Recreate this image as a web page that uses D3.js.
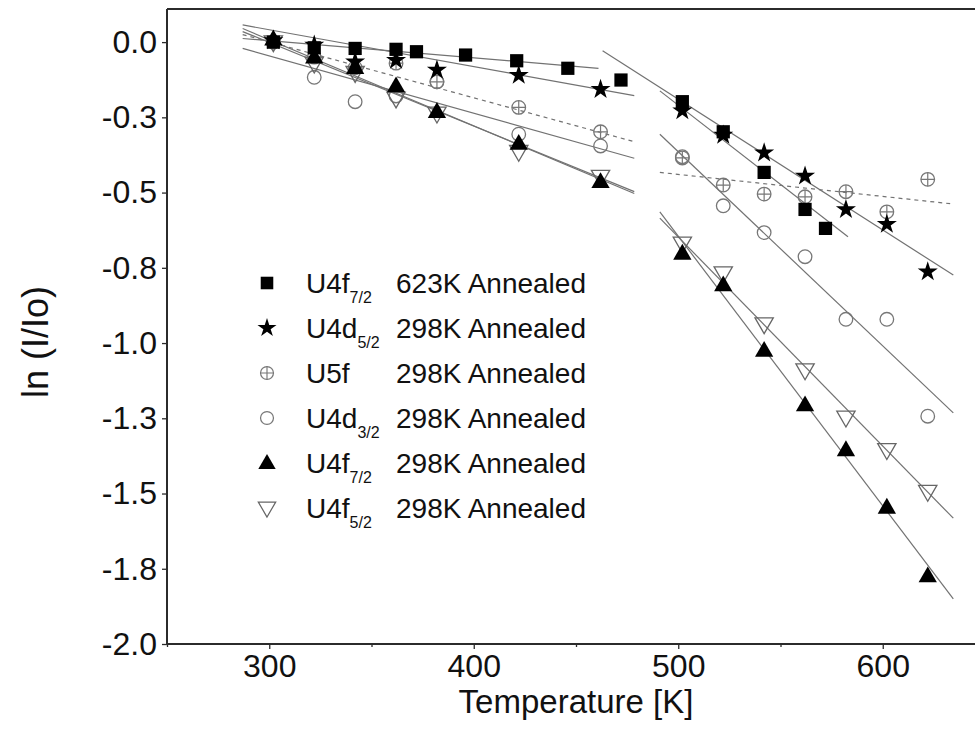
<!DOCTYPE html>
<html>
<head>
<meta charset="utf-8">
<script src="https://cdn.jsdelivr.net/npm/d3@7"></script>
<style>
  html, body { margin: 0; padding: 0; background: #fff; }
  svg { display: block; font-family: "Liberation Sans", Arial, sans-serif; }
</style>
</head>
<body>
<svg id="chart" width="975" height="738"></svg>
<script>
// Temperature-dependent XPS intensity ratios ln(I/Io)

// U4f7/2, 623K annealed
const sqT = [302, 322, 342, 362, 372, 396, 421, 446, 472, 502, 522, 542, 562, 572];
const sqV = [0.0, -0.019, -0.021, -0.024, -0.032, -0.043, -0.062, -0.087, -0.126, -0.198, -0.298, -0.433, -0.556, -0.619];

// U4d5/2, 298K annealed
const starT = [302, 322, 342, 362, 382, 422, 462, 502, 522, 542, 562, 582, 602, 622];
const starV = [0.005, -0.01, -0.065, -0.06, -0.093, -0.11, -0.157, -0.228, -0.309, -0.368, -0.445, -0.556, -0.605, -0.763];

// U5f, 298K annealed
const u5fT = [302, 322, 342, 362, 382, 422, 462, 502, 522, 542, 562, 582, 602, 622];
const u5fV = [0.0, -0.05, -0.085, -0.07, -0.132, -0.217, -0.298, -0.385, -0.475, -0.505, -0.514, -0.497, -0.564, -0.456];

// U4d3/2, 298K annealed
const circT = [302, 322, 342, 362, 382, 422, 462, 502, 522, 542, 562, 582, 602, 622];
const circV = [0.0, -0.117, -0.198, -0.179, -0.132, -0.306, -0.345, -0.381, -0.544, -0.633, -0.713, -0.921, -0.921, -1.243];

// U4f7/2, 298K annealed
const triUpT = [302, 322, 342, 362, 382, 422, 462, 502, 522, 542, 562, 582, 602, 622];
const triUpV = [0.01, -0.05, -0.085, -0.146, -0.231, -0.337, -0.464, -0.702, -0.807, -1.025, -1.206, -1.355, -1.546, -1.774];

// U4f5/2, 298K annealed
const triDnT = [302, 322, 342, 362, 382, 422, 462, 502, 522, 542, 562, 582, 602, 622];
const triDnV = [0.0, -0.071, -0.102, -0.187, -0.237, -0.364, -0.447, -0.669, -0.768, -0.937, -1.09, -1.247, -1.355, -1.494];

// Linear fits, low- and high-temperature regimes: [[T0, v0], [T1, v1]]
const fitSq    = [[[287, 0.012], [461, -0.087]], [[491, -0.162], [583, -0.647]]];
const fitStar  = [[[287, 0.057], [478.5, -0.178]], [[463, -0.029], [634.5, -0.774]]];
const fitU5f   = [[[287, 0.025], [478.5, -0.331]], [[491, -0.433], [634.5, -0.538]]];
const fitCirc  = [[[287, -0.021], [478.5, -0.386]], [[491, -0.306], [634.5, -1.232]]];
const fitTriUp = [[[287, 0.045], [478.5, -0.503]], [[491, -0.564], [634.5, -1.850]]];
const fitTriDn = [[[287, 0.035], [478.5, -0.497]], [[491, -0.585], [634.5, -1.582]]];

// Axes
const xDomain = [250, 650];
const yDomain = [-2.0, 0.11];
const xTicks = [300, 400, 500, 600];
const xMinorTicks = [250, 350, 450, 550, 650];
const yTicks = [0, -0.25, -0.5, -0.75, -1.0, -1.25, -1.5, -1.75, -2.0];
const yTickLabels = ["0.0", "-0.3", "-0.5", "-0.8", "-1.0", "-1.3", "-1.5", "-1.8", "-2.0"];
const xTitle = "Temperature [K]";
const yTitle = "ln (I/Io)";

// Legend entries: [main, subscript, condition]
const legendMain = ["U4f", "U4d", "U5f", "U4d", "U4f", "U4f"];
const legendSub = ["7/2", "5/2", "", "3/2", "7/2", "5/2"];
const legendCond = ["623K Annealed", "298K Annealed", "298K Annealed", "298K Annealed", "298K Annealed", "298K Annealed"];

const svg = d3.select("#chart");
const x = d3.scaleLinear().domain(xDomain).range([167, 985]);
const y = d3.scaleLinear().domain(yDomain).range([644, 9]);

const lineCol = "#727272";
const axisCol = "#2b2b2b";

const series = [
  { T: sqT, V: sqV, fit: fitSq, shape: "square", dash: null },
  { T: starT, V: starV, fit: fitStar, shape: "star", dash: null },
  { T: u5fT, V: u5fV, fit: fitU5f, shape: "cross", dash: "4,4" },
  { T: circT, V: circV, fit: fitCirc, shape: "circle", dash: null },
  { T: triUpT, V: triUpV, fit: fitTriUp, shape: "triup", dash: null },
  { T: triDnT, V: triDnV, fit: fitTriDn, shape: "tridn", dash: null }
];

// clip to plotting area
svg.append("clipPath").attr("id", "plotclip")
  .append("rect").attr("x", 167).attr("y", 9).attr("width", 818).attr("height", 635);

const plot = svg.append("g").attr("clip-path", "url(#plotclip)");

// fit lines
const line = d3.line().x(d => x(d[0])).y(d => y(d[1]));
series.forEach(s => {
  s.fit.forEach(seg => {
    plot.append("path")
      .attr("d", line(seg))
      .attr("fill", "none")
      .attr("stroke", lineCol)
      .attr("stroke-width", 1.2)
      .attr("stroke-dasharray", s.dash);
  });
});

// marker drawing
function drawMarker(g, shape, cx, cy, scale = 1) {
  const m = g.append("g").attr("transform", `translate(${cx},${cy}) scale(${scale})`);
  if (shape === "square") {
    m.append("path").attr("d", d3.symbol(d3.symbolSquare, 175)())
      .attr("fill", "#000");
  } else if (shape === "star") {
    m.append("path").attr("d", d3.symbol(d3.symbolStar, 125)())
      .attr("fill", "#000");
  } else if (shape === "triup") {
    m.append("path").attr("d", d3.symbol(d3.symbolTriangle, 145)())
      .attr("fill", "#000").attr("transform", "translate(0,1)");
  } else if (shape === "tridn") {
    m.append("path").attr("d", d3.symbol(d3.symbolTriangle, 145)())
      .attr("fill", "none").attr("stroke", "#666").attr("stroke-width", 1.3)
      .attr("transform", "translate(0,-1) rotate(180)");
  } else if (shape === "circle") {
    m.append("circle").attr("r", 6.8)
      .attr("fill", "none").attr("stroke", "#777").attr("stroke-width", 1.3);
  } else if (shape === "cross") {
    m.append("circle").attr("r", 6.8)
      .attr("fill", "none").attr("stroke", "#777").attr("stroke-width", 1.3);
    m.append("path").attr("d", "M-6.8,0H6.8M0,-6.8V6.8")
      .attr("stroke", "#777").attr("stroke-width", 1.2);
  }
  return m;
}

// open markers first, filled ones on top
const drawOrder = [3, 2, 5, 4, 1, 0];
drawOrder.forEach(i => {
  const s = series[i];
  s.T.forEach((t, k) => drawMarker(plot, s.shape, x(t), y(s.V[k])));
});

// axes
const xAxis = svg.append("g").attr("transform", "translate(0,644)")
  .call(d3.axisBottom(x).tickValues(xTicks).tickSize(5).tickPadding(5).tickFormat(d3.format("d")));
const xMinor = svg.append("g").attr("transform", "translate(0,644)")
  .call(d3.axisBottom(x).tickValues(xMinorTicks).tickSize(3).tickFormat(""));
xMinor.select(".domain").remove();

const yAxis = svg.append("g").attr("transform", "translate(167,0)")
  .call(d3.axisLeft(y).tickValues(yTicks).tickSize(5).tickPadding(5)
    .tickFormat((d, i) => yTickLabels[i]));

[xAxis, yAxis, xMinor].forEach(a => {
  a.select(".domain").attr("stroke", axisCol).attr("stroke-width", 2);
  a.selectAll(".tick line").attr("stroke", axisCol).attr("stroke-width", 1.3);
  a.selectAll(".tick text").attr("fill", "#111").attr("font-size", 32)
    .attr("font-family", "Liberation Sans, Arial, sans-serif");
});
xAxis.select(".domain").attr("d", "M167,0H985");
yAxis.select(".domain").attr("d", "M0,644V9");

// top frame line
svg.append("line").attr("x1", 167).attr("x2", 985).attr("y1", 9).attr("y2", 9)
  .attr("stroke", axisCol).attr("stroke-width", 2);

// axis titles
svg.append("text").attr("x", 576).attr("y", 713)
  .attr("text-anchor", "middle").attr("font-size", 33).attr("fill", "#111")
  .text(xTitle);
svg.append("text")
  .attr("transform", "translate(48,342) rotate(-90)")
  .attr("text-anchor", "middle").attr("font-size", 36).attr("fill", "#111")
  .text(yTitle);

// legend
const shapeOrder = ["square", "star", "cross", "circle", "triup", "tridn"];
const legend = svg.append("g");
legendMain.forEach((lab, i) => {
  const yy = 283 + i * 45;
  drawMarker(legend, shapeOrder[i], 267, yy, 0.95);
  const t = legend.append("text").attr("x", 306).attr("y", yy + 10)
    .attr("font-size", 28).attr("fill", "#111");
  t.append("tspan").text(lab);
  if (legendSub[i]) {
    t.append("tspan").attr("dy", 10).attr("font-size", 16).text(legendSub[i]);
  }
  legend.append("text").attr("x", 396).attr("y", yy + 10)
    .attr("font-size", 28).attr("fill", "#111").text(legendCond[i]);
});
</script>
</body>
</html>
